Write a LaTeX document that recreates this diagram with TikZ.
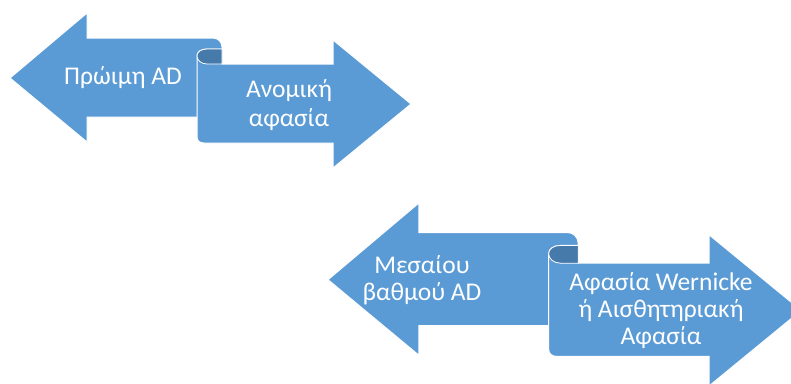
\documentclass[tikz,border=0pt]{standalone}
\usepackage{fontspec}
\setmainfont{Carlito}
\definecolor{scrollblue}{HTML}{5B9BD5}
\definecolor{scrollback}{HTML}{467AAB}

% one pair of opposing scroll arrows, drawn in its own pixel frame
\newcommand\drawscrollpair{%
  % left-pointing band
  \path[band] (10,78) -- (87,13) -- (87,38) -- (213,38)
    .. controls (218,38) and (222,42) .. (222,47)
    -- (222,117) -- (87,117) -- (87,142) -- cycle;
  % right-pointing band with its rolled end
  \path[band] (222,64) -- (333,64) -- (333,40) -- (411,104) -- (333,168)
    -- (333,143) -- (204,143)
    .. controls (200,143) and (197,141) .. (197,137)
    -- (197,56) .. controls (197,52) and (201,49) .. (207,49)
    -- (222,49) -- cycle;
  % back side of the roll
  \path[curl] (222,49) -- (207,49) .. controls (201,49) and (197,52) .. (197,56)
    .. controls (197,60) and (201,64) .. (207,64) -- (222,64) -- cycle;
}

\begin{document}
\begin{tikzpicture}[x=1pt,y=-1pt,
  band/.style={fill=scrollblue,draw=white,line width=1pt},
  curl/.style={fill=scrollback,draw=white,line width=0.8pt},
  lbl/.style={text=white,align=center,anchor=base,inner sep=0pt,
    font=\fontsize{25.5}{29}\selectfont}]
\useasboundingbox (0,0) rectangle (791,383);
\fill[white] (0,0) rectangle (791,383);
\clip (0,0) rectangle (791,383);

\begin{scope}
  \drawscrollpair
\end{scope}
\begin{scope}[shift={(316.2,187.66)},scale=1.18]
  \drawscrollpair
\end{scope}

% the base anchor of a multi-line label sits on its last line
\node[lbl] (early) at (123,84) {Πρώιμη AD};
\node[lbl] (anomic) at (289,126) {Ανομική\\αφασία};
\node[lbl,font=\fontsize{25.5}{27}\selectfont] (middle) at (422,300) {Μεσαίου\\βαθμού AD};
\node[lbl,font=\fontsize{25.5}{27}\selectfont] (wernicke) at (661,344) {Αφασία Wernicke\\ή Αισθητηριακή\\Αφασία};
\end{tikzpicture}
\end{document}
